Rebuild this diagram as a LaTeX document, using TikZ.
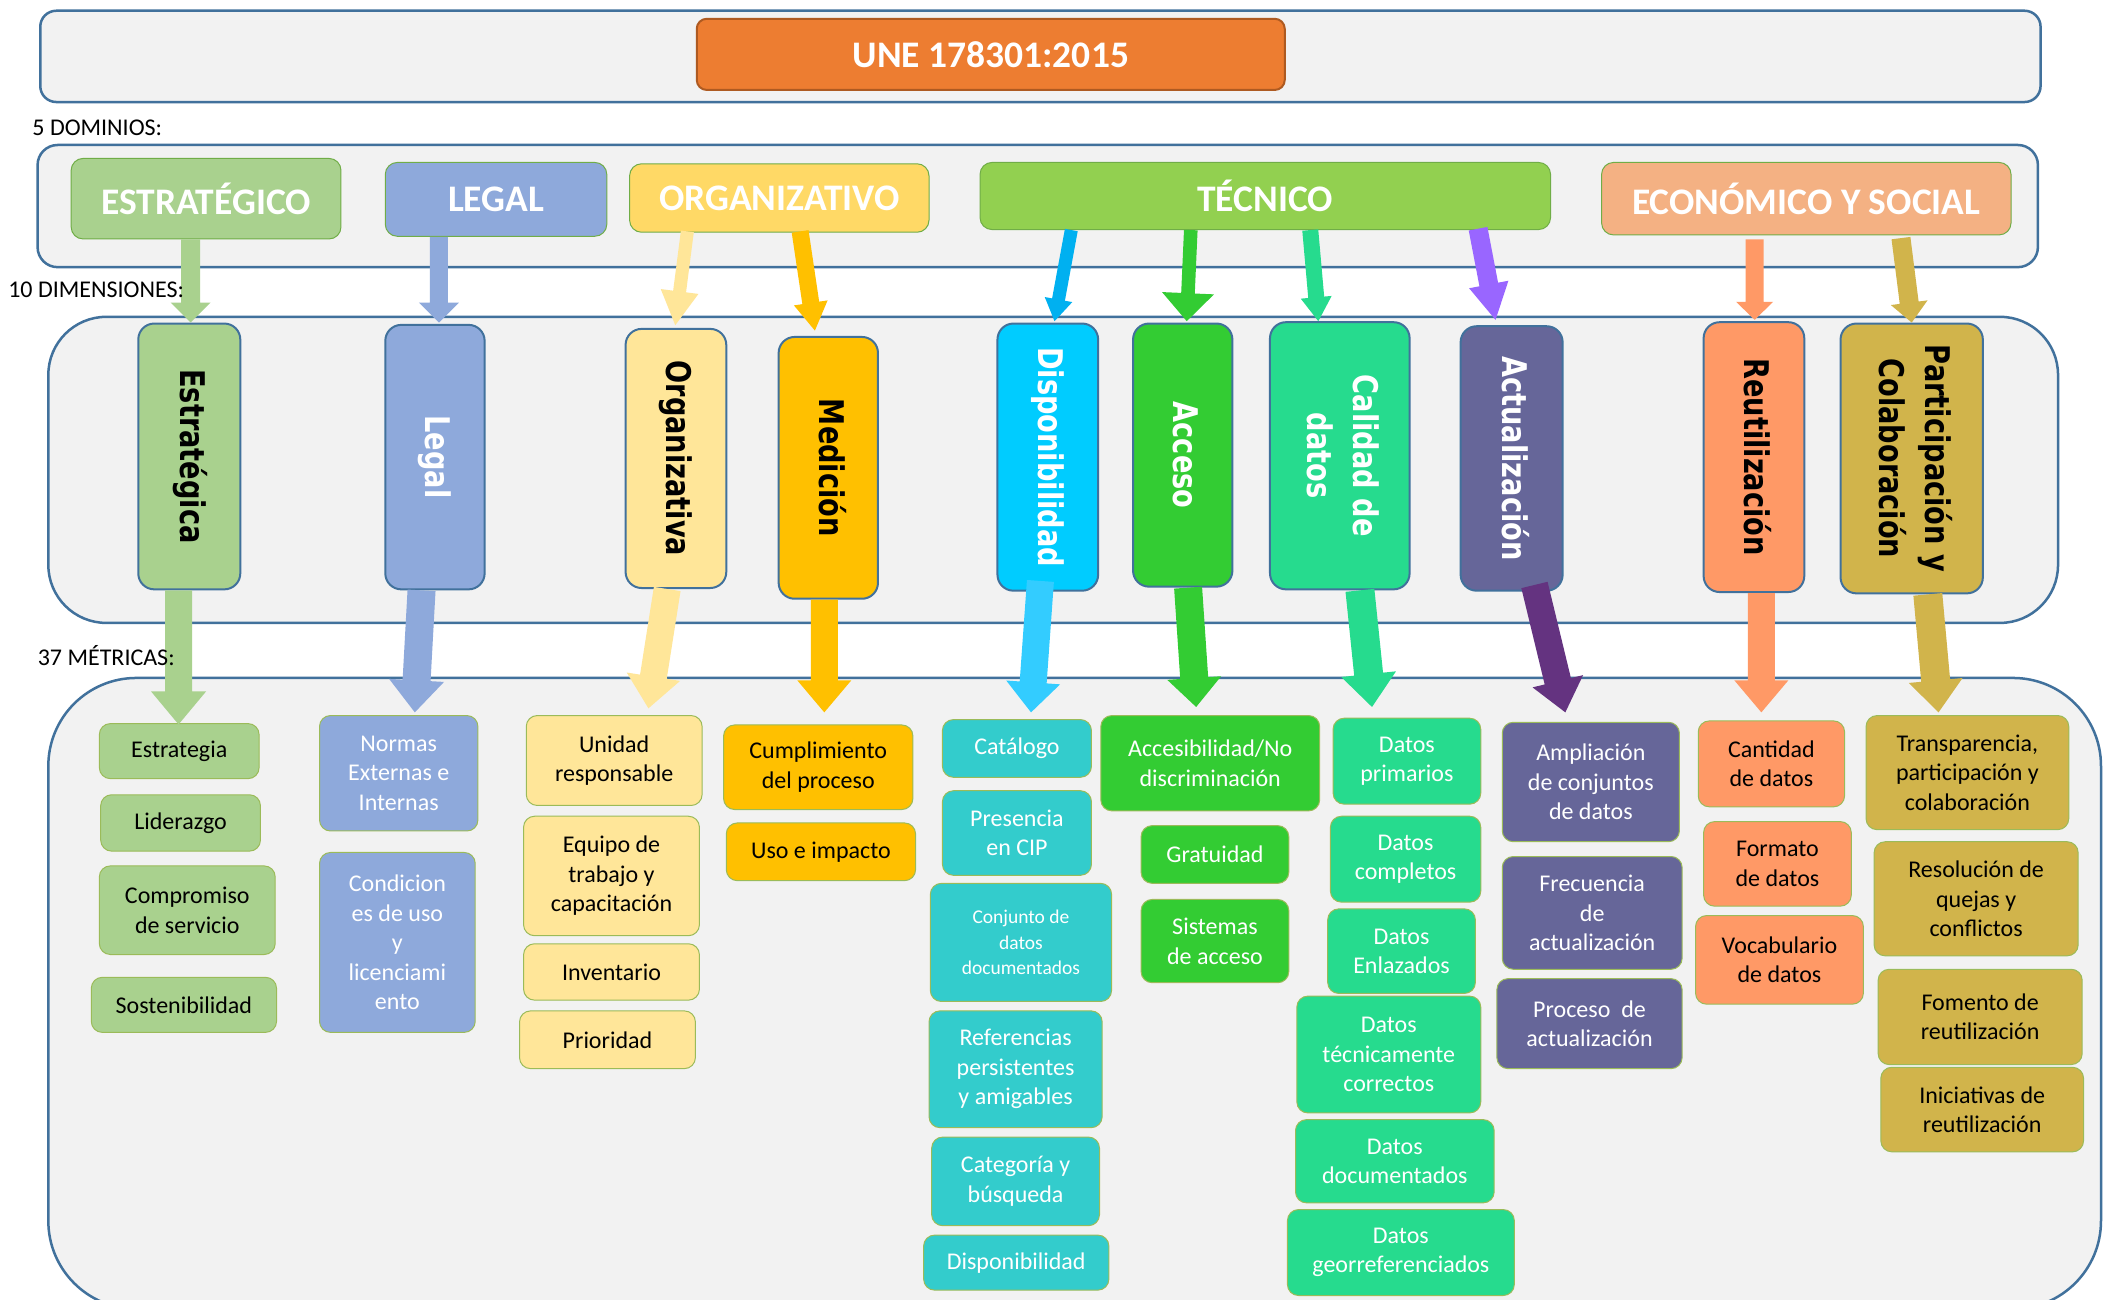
\documentclass[tikz,border=0pt]{standalone}
\usepackage{fontspec}
\usepackage{graphicx}
\setmainfont{Carlito}
\newfontfamily\dimfont{DejaVu Sans}[FakeStretch=0.8]
\usetikzlibrary{calc}

\definecolor{frameblue}{HTML}{41719C}
\definecolor{panel}{HTML}{F2F2F2}
\definecolor{une}{HTML}{ED7D31}
\definecolor{uneedge}{HTML}{AE5A21}
\definecolor{edgegreen}{HTML}{70AD47}
\definecolor{metricedge}{HTML}{9BBB59}
\definecolor{cEstr}{HTML}{A9D18E}
\definecolor{cLeg}{HTML}{8EA9DB}
\definecolor{cOrgD}{HTML}{FFD966}
\definecolor{cOrg}{HTML}{FFE699}
\definecolor{cMed}{HTML}{FFC000}
\definecolor{cTec}{HTML}{92D050}
\definecolor{cEco}{HTML}{F4B183}
\definecolor{cDisp}{HTML}{00CCFF}
\definecolor{cDispUp}{HTML}{00B0F0}
\definecolor{cDispDown}{HTML}{33CCFF}
\definecolor{cDispM}{HTML}{33CCCC}
\definecolor{cAcc}{HTML}{33CC33}
\definecolor{cCal}{HTML}{26DB8E}
\definecolor{cAct}{HTML}{666699}
\definecolor{cActUp}{HTML}{9966FF}
\definecolor{cActDown}{HTML}{643380}
\definecolor{cReu}{HTML}{FF9966}
\definecolor{cPar}{HTML}{D1B44B}

% box from its corners: name, style, x1, y1, x2, y2, text
\newcommand\bx[7]{%
  \pgfmathsetmacro\bxcx{(#3+#5)/2}%
  \pgfmathsetmacro\bxcy{(#4+#6)/2}%
  \pgfmathsetmacro\bxw{(#5-#3)*1.3425}%
  \pgfmathsetmacro\bxh{(#6-#4)*1.3425}%
  \node[#2, minimum width=\bxw pt, minimum height=\bxh pt] (#1) at (\bxcx,\bxcy) {#7};%
}
% wide block arrow: colour, tail, tip, half shaft, half head, head length
\newcommand\blockarrow[6]{%
  \coordinate (ba-h) at ($(#3)!#6!(#2)$);
  \fill[#1] ($(#2)!#4!90:(#3)$) -- ($(ba-h)!#4!90:(#3)$) -- ($(ba-h)!#5!90:(#3)$) -- (#3)
     -- ($(ba-h)!#5!-90:(#3)$) -- ($(ba-h)!#4!-90:(#3)$) -- ($(#2)!#4!-90:(#3)$) -- cycle;
}
\newcommand\vlabel[1]{\rotatebox{-90}{\begin{tabular}{@{}c@{}}#1\end{tabular}}}

\tikzset{
  panelbox/.style={draw=frameblue, line width=2.5pt, fill=panel, inner sep=0pt},
  titlebox/.style={rounded corners=10pt, draw=uneedge, line width=2pt, fill=une, text=white,
    inner sep=0pt, font=\fontsize{37.5}{42}\selectfont\bfseries},
  dombox/.style={rounded corners=12pt, draw=edgegreen, line width=1pt, text=white, inner sep=0pt,
    font=\fontsize{37.5}{42}\selectfont\bfseries},
  dimbox/.style={rounded corners=16pt, draw=frameblue, line width=2pt, inner sep=0pt,
    font=\dimfont\bfseries\fontsize{34}{46}\selectfont},
  metbox/.style={rounded corners=11pt, draw=metricedge, line width=1pt, inner sep=0pt,
    align=center, font=\fontsize{24}{29.5}\selectfont},
  tagtext/.style={anchor=west, inner sep=0pt, font=\fontsize{24}{28}\selectfont}
}

\begin{document}
\begin{tikzpicture}[x=1.3425pt, y=-1.3425pt]
\useasboundingbox (0,0) rectangle (1568,968);
\fill[white] (0,0) rectangle (1568,968);

% panels
\bx{topPanel}{panelbox, rounded corners=16pt}{30}{8}{1520}{76}{}
\bx{domPanel}{panelbox, rounded corners=20pt}{28}{108}{1518}{199}{}
\bx{dimPanel}{panelbox, rounded corners=58pt}{36}{236}{1533}{464}{}
\bx{metPanel}{panelbox, rounded corners=88pt}{36}{505}{1565}{975}{}

\bx{une}{titlebox}{519}{14}{957}{67}{UNE 178301:2015}

% domains
\bx{dEstr}{dombox, fill=cEstr}{53}{118}{254}{178}{ESTRATÉGICO}
\bx{dLeg}{dombox, fill=cLeg}{287}{121}{452}{176}{LEGAL}
\bx{dOrg}{dombox, fill=cOrgD}{469}{122}{692}{173}{ORGANIZATIVO}
\bx{dTec}{dombox, fill=cTec}{730}{121}{1155}{171}{TÉCNICO}
\bx{dEco}{dombox, fill=cEco}{1193}{121}{1498}{175}{ECONÓMICO Y SOCIAL}

% dimensions
\bx{mEstr}{dimbox, fill=cEstr}{103}{241}{179}{439}{\vlabel{Estratégica}}
\bx{mLeg}{dimbox, fill=cLeg, text=white}{287}{242}{361}{439}{\vlabel{Legal}}
\bx{mOrg}{dimbox, fill=cOrg}{466}{245}{541}{438}{\vlabel{Organizativa}}
\bx{mMed}{dimbox, fill=cMed}{580}{251}{654}{446}{\vlabel{Medición}}
\bx{mDisp}{dimbox, fill=cDisp, text=white}{743}{241}{818}{440}{\vlabel{Disponibilidad}}
\bx{mAcc}{dimbox, fill=cAcc, text=white}{844}{241}{918}{437}{\vlabel{Acceso}}
\bx{mCal}{dimbox, fill=cCal, text=white}{946}{240}{1050}{439}{\vlabel{Calidad de\\datos}}
\bx{mAct}{dimbox, fill=cAct, text=white}{1088}{243}{1164}{440}{\vlabel{Actualización}}
\bx{mReu}{dimbox, fill=cReu}{1269}{240}{1344}{441}{\vlabel{Reutilización}}
\bx{mPar}{dimbox, fill=cPar}{1371}{241}{1477}{442}{\vlabel{Participación y\\Colaboración}}

% metrics: estrategica
\bx{e1}{metbox, fill=cEstr}{74}{539}{193}{580}{Estrategia}
\bx{e2}{metbox, fill=cEstr}{75}{592}{194}{634}{Liderazgo}
\bx{e3}{metbox, fill=cEstr}{74}{645}{205}{711}{Compromiso\\de servicio}
\bx{e4}{metbox, fill=cEstr}{68}{728}{206}{769}{Sostenibilidad}
% legal
\bx{l1}{metbox, fill=cLeg, text=white}{238}{533}{356}{619}{Normas\\Externas e\\Internas}
\bx{l2}{metbox, fill=cLeg, text=white}{238}{635}{354}{769}{Condicion\\es de uso\\y\\licenciami\\ento}
% organizativa
\bx{o1}{metbox, fill=cOrg}{392}{533}{523}{600}{Unidad\\responsable}
\bx{o2}{metbox, fill=cOrg}{390}{608}{521}{697}{Equipo de\\trabajo y\\capacitación}
\bx{o3}{metbox, fill=cOrg}{390}{703}{521}{745}{Inventario}
\bx{o4}{metbox, fill=cOrg}{387}{753}{518}{796}{Prioridad}
% medicion
\bx{med1}{metbox, fill=cMed}{539}{540}{680}{603}{Cumplimiento\\del proceso}
\bx{med2}{metbox, fill=cMed}{541}{613}{682}{656}{Uso e impacto}
% disponibilidad
\bx{p1}{metbox, fill=cDispM, text=white}{702}{536}{813}{579}{Catálogo}
\bx{p2}{metbox, fill=cDispM, text=white}{702}{589}{813}{652}{Presencia\\en CIP}
\bx{p3}{metbox, fill=cDispM, text=white, font=\fontsize{19.5}{25.5}\selectfont}{693}{658}{828}{746}{Conjunto de\\datos\\documentados}
\bx{p4}{metbox, fill=cDispM, text=white}{692}{753}{821}{840}{Referencias\\persistentes\\y amigables}
\bx{p5}{metbox, fill=cDispM, text=white}{694}{847}{819}{913}{Categoría y\\búsqueda}
\bx{p6}{metbox, fill=cDispM, text=white}{688}{920}{826}{961}{Disponibilidad}
% acceso
\bx{a1}{metbox, fill=cAcc, text=white}{820}{533}{983}{604}{Accesibilidad/No\\discriminación}
\bx{a2}{metbox, fill=cAcc, text=white}{850}{615}{960}{658}{Gratuidad}
\bx{a3}{metbox, fill=cAcc, text=white}{850}{670}{960}{732}{Sistemas\\de acceso}
% calidad de datos
\bx{c1}{metbox, fill=cCal, text=white}{993}{535}{1103}{599}{Datos\\primarios}
\bx{c2}{metbox, fill=cCal, text=white}{991}{608}{1103}{672}{Datos\\completos}
\bx{c3}{metbox, fill=cCal, text=white}{989}{677}{1099}{740}{Datos\\Enlazados}
\bx{c4}{metbox, fill=cCal, text=white}{966}{742}{1103}{829}{Datos\\técnicamente\\correctos}
\bx{c5}{metbox, fill=cCal, text=white}{965}{834}{1113}{896}{Datos\\documentados}
\bx{c6}{metbox, fill=cCal, text=white}{959}{901}{1128}{965}{Datos\\georreferenciados}
% actualizacion
\bx{u1}{metbox, fill=cAct, text=white}{1119}{538}{1251}{627}{Ampliación\\de conjuntos\\de datos}
\bx{u2}{metbox, fill=cAct, text=white}{1119}{638}{1253}{722}{Frecuencia\\de\\actualización}
\bx{u3}{metbox, fill=cAct, text=white}{1115}{729}{1253}{796}{Proceso\ \ de\\actualización}
% reutilizacion
\bx{r1}{metbox, fill=cReu}{1265}{537}{1374}{601}{Cantidad\\de datos}
\bx{r2}{metbox, fill=cReu}{1269}{612}{1379}{675}{Formato\\de datos}
\bx{r3}{metbox, fill=cReu}{1263}{682}{1388}{748}{Vocabulario\\de datos}
% participacion y colaboracion
\bx{q1}{metbox, fill=cPar}{1390}{533}{1541}{618}{Transparencia,\\participación y\\colaboración}
\bx{q2}{metbox, fill=cPar}{1396}{627}{1548}{712}{Resolución de\\quejas y\\conflictos}
\bx{q3}{metbox, fill=cPar}{1399}{722}{1551}{793}{Fomento de\\reutilización}
\bx{q4}{metbox, fill=cPar}{1401}{795}{1552}{858}{Iniciativas de\\reutilización}

% domain -> dimension connectors
\coordinate (s1) at ($(dEstr.south)+(-11.5,0)$);  \coordinate (t1) at ($(mEstr.north)+(1,0)$);
\coordinate (s2) at ($(dLeg.south)+(-42.5,0)$);   \coordinate (t2) at ($(mLeg.north)+(3,-1)$);
\coordinate (s3) at ($(dOrg.south)+(-68.5,-1)$);  \coordinate (t3) at ($(mOrg.north)+(-0.5,-2)$);
\coordinate (s4) at ($(dOrg.south)+(15.5,-1)$);   \coordinate (t4) at ($(mMed.north)+(-10,-4)$);
\coordinate (s5) at ($(dTec.south)+(-144.5,0)$);  \coordinate (t5) at ($(mDisp.north)+(5,-1)$);
\coordinate (s6) at ($(dTec.south)+(-55.5,0)$);   \coordinate (t6) at ($(mAcc.north)+(3,-1)$);
\coordinate (s7) at ($(dTec.south)+(33.5,0)$);    \coordinate (t7) at ($(mCal.north)+(-16,0)$);
\coordinate (s8) at ($(dTec.south)+(158.5,-1)$);  \coordinate (t8) at ($(mAct.north)+(-12,-4)$);
\coordinate (s9) at ($(dEco.south)+(-38.5,3)$);   \coordinate (t9) at ($(mReu.north)+(0.5,-1)$);
\coordinate (s10) at ($(dEco.south)+(70.5,2)$);   \coordinate (t10) at ($(mPar.north)+(0,0)$);

\blockarrow{cEstr}{s1}{t1}{9.5pt}{20pt}{20pt}
\blockarrow{cLeg}{s2}{t2}{9pt}{20pt}{20pt}
\blockarrow{cOrg}{s3}{t3}{6.5pt}{19pt}{34pt}
\blockarrow{cMed}{s4}{t4}{8.5pt}{17pt}{28pt}
\blockarrow{cDispUp}{s5}{t5}{6.5pt}{14pt}{22pt}
\blockarrow{cAcc}{s6}{t6}{6.8pt}{26pt}{28pt}
\blockarrow{cCal}{s7}{t7}{8pt}{15.5pt}{24pt}
\blockarrow{cActUp}{s8}{t8}{9.5pt}{20pt}{36pt}
\blockarrow{cReu}{s9}{t9}{9pt}{18.5pt}{18pt}
\blockarrow{cPar}{s10}{t10}{9.5pt}{18.5pt}{20pt}

% dimension -> metric connectors
\coordinate (g1) at ($(mEstr.south)+(-8,0)$);   \coordinate (h1) at ($(e1.north)+(-0.5,1)$);
\coordinate (g2) at ($(mLeg.south)+(-10,0)$);   \coordinate (h2) at ($(l1.north)+(12,-2)$);
\coordinate (g3) at ($(mOrg.south)+(-6.5,0)$);  \coordinate (h3) at ($(o1.north)+(25.5,-5)$);
\coordinate (g4) at ($(mMed.south)+(-3,0)$);    \coordinate (h4) at ($(med1.north)+(4.5,-9)$);
\coordinate (g5) at ($(mDisp.south)+(-5.5,-8)$);\coordinate (h5) at ($(p1.north)+(10.5,-5)$);
\coordinate (g6) at ($(mAcc.south)+(4,0)$);     \coordinate (h6) at ($(a1.north)+(-10.5,-6)$);
\coordinate (g7) at ($(mCal.south)+(15,0)$);    \coordinate (h7) at ($(c1.north)+(-26,-8)$);
\coordinate (g8) at ($(mAct.south)+(17,-5)$);   \coordinate (h8) at ($(u1.north)+(-19,-7)$);
\coordinate (g9) at ($(mReu.south)+(5.5,0)$);   \coordinate (h9) at ($(r1.north)+(-7.5,-6)$);
\coordinate (g10) at ($(mPar.south)+(12,0)$);   \coordinate (h10) at ($(q1.north)+(-21.5,-2)$);

\blockarrow{cEstr}{g1}{h1}{13.5pt}{27.5pt}{33pt}
\blockarrow{cLeg}{g2}{h2}{14pt}{27.5pt}{32pt}
\blockarrow{cOrg}{g3}{h3}{13.5pt}{27pt}{32pt}
\blockarrow{cMed}{g4}{h4}{13.5pt}{27pt}{32pt}
\blockarrow{cDispDown}{g5}{h5}{13.5pt}{27pt}{30pt}
\blockarrow{cAcc}{g6}{h6}{14pt}{27pt}{29pt}
\blockarrow{cCal}{g7}{h7}{14.5pt}{27.5pt}{33pt}
\blockarrow{cActDown}{g8}{h8}{13.5pt}{26pt}{32pt}
\blockarrow{cReu}{g9}{h9}{13.5pt}{27pt}{32pt}
\blockarrow{cPar}{g10}{h10}{14.5pt}{27pt}{32pt}

% level captions, set over the arrows
\node[tagtext] (tDom) at (24,95) {5 DOMINIOS:};
\node[tagtext] (tDim) at (6,216) {10 DIMENSIONES:};
\node[tagtext] (tMet) at (28,488) {37 MÉTRICAS:};
\end{tikzpicture}
\end{document}
